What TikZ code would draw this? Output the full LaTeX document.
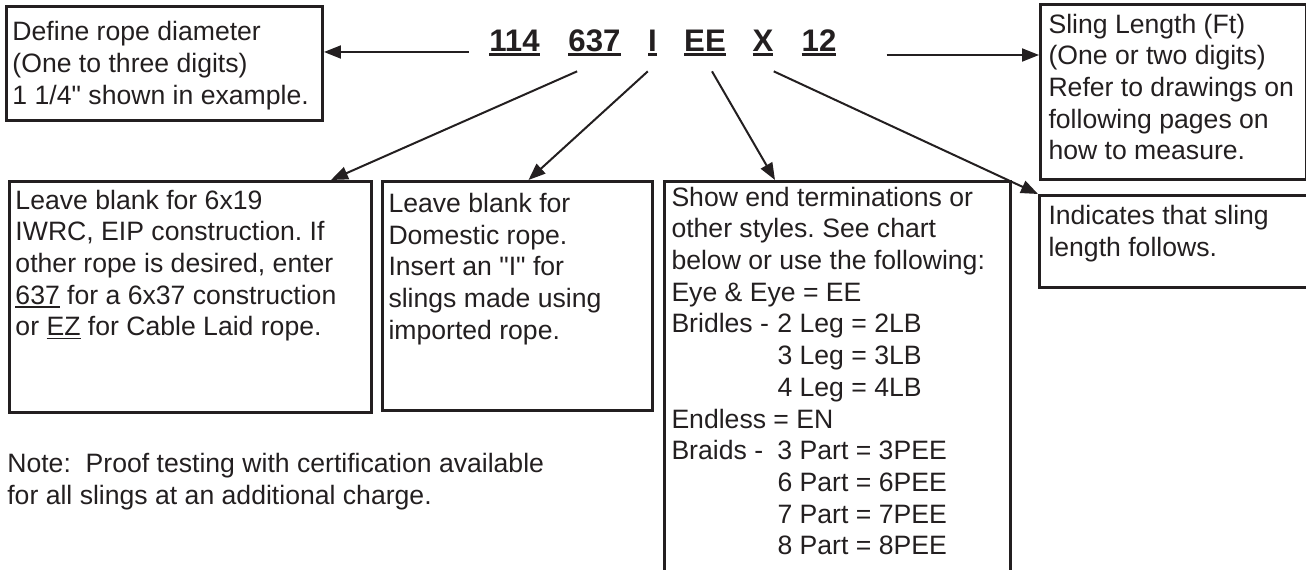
\documentclass[tikz,border=0pt]{standalone}
\usepackage{fontspec}
\setmainfont{Liberation Sans}[Ligatures=TeXOff]
\usetikzlibrary{arrows.meta}
\newlength{\pxu}
\setlength{\pxu}{0.02cm}
\definecolor{ink}{RGB}{35,31,32}
\newcommand{\bodyfont}{\fontsize{15.14pt}{18.04pt}\selectfont\frenchspacing}
\newcommand{\codefont}{\fontsize{17.75pt}{21pt}\selectfont\bfseries}
\newcommand{\boxtext}[3]{\parbox[t][#1][t]{#2}{\raggedright\strut#3}}
\newcommand{\codeul}[1]{\leavevmode\setbox0\hbox{#1}\rlap{\rule[-4\pxu]{\wd0}{2.5\pxu}}\box0\relax}
\newcommand{\textul}[1]{\leavevmode\setbox0\hbox{#1}\rlap{\rule[-3.5\pxu]{\wd0}{1.5\pxu}}\box0\relax}
\newcommand{\leadin}[1]{\makebox[106\pxu][l]{#1}}

\begin{document}
\begin{tikzpicture}[x=0.02cm, y=-0.02cm,
    box/.style={draw=ink, line width=3\pxu, anchor=north west, font=\bodyfont, text=ink, inner xsep=6\pxu},
    code/.style={font=\codefont, text=ink, anchor=base, inner xsep=0pt, inner ysep=15\pxu},
    arr/.style={draw=ink, line width=2\pxu, -{Triangle[length=0.34cm, width=0.26cm]}}]
\clip (0,0) rectangle (1306,570);

\node[box, inner ysep=12\pxu] (dia) at (5,5) {\boxtext{90\pxu}{304\pxu}{Define rope diameter\\(One to three digits)\\1 1/4" shown in example.}};

\node[box, inner ysep=6.5\pxu, inner xsep=8\pxu] (sling) at (1039,3) {\boxtext{162\pxu}{250\pxu}{Sling Length (Ft)\\(One or two digits)\\Refer to drawings on\\following pages on\\how to measure.}};

\node[box, inner ysep=5.5\pxu] (blank) at (8,180) {\boxtext{220\pxu}{350\pxu}{Leave blank for 6x19\\IWRC, EIP construction. If\\other rope is desired, enter\\\textul{637} for a 6x37 construction\\or \textul{EZ} for Cable Laid rope.}};

\node[box, inner ysep=8.8\pxu] (dom) at (381,180) {\boxtext{211.4\pxu}{258\pxu}{Leave blank for\\Domestic rope.\\Insert an "I" for\\slings made using\\imported rope.}};

\node[box, inner ysep=2.5\pxu, inner xsep=7\pxu] (ends) at (663,180) {\boxtext{414\pxu}{332\pxu}{Show end terminations or\\other styles. See chart\\below or use the following:\\Eye \& Eye = EE\\\leadin{Bridles -}2 Leg = 2LB\\\leadin{}3 Leg = 3LB\\\leadin{}4 Leg = 4LB\\Endless = EN\\\leadin{Braids -}3 Part = 3PEE\\\leadin{}6 Part = 6PEE\\\leadin{}7 Part = 7PEE\\\leadin{}8 Part = 8PEE}};

\node[box, inner ysep=7\pxu, inner xsep=9\pxu] (ind) at (1038,194) {\boxtext{78\pxu}{272\pxu}{Indicates that sling\\length follows.}};

\node[code] (c114) at (514.5,52) {\codeul{114}};
\node[code] (c637) at (594.5,52) {\codeul{637}};
\node[code] (cI) at (652.5,52) {\codeul{I}};
\node[code] (cEE) at (705,52) {\codeul{EE}};
\node[code] (cX) at (763,52) {\codeul{X}};
\node[code] (c12) at (819,52) {\codeul{12}};

\node[font=\bodyfont, text=ink, align=left, anchor=north west, inner sep=0pt] (note) at (7,453) {Note:\ \ Proof testing with certification available\\for all slings at an additional charge.};

\coordinate (l114) at ([xshift=-20\pxu]c114.base west);
\coordinate (r12) at ([xshift=50\pxu, yshift=-3\pxu]c12.base east);
\draw[arr] (l114) -- (l114 -| dia.east);
\draw[arr] (r12) -- (r12 -| sling.west);
\draw[arr] ([xshift=9\pxu]c637.south west) -- ([xshift=-42\pxu]blank.north east);
\draw[arr] (cI.south west) -- ([xshift=11\pxu]dom.north);
\draw[arr] ([xshift=7\pxu]cEE.south) -- ([xshift=112\pxu]ends.north west);
\draw[arr] (cX.south east) -- (ind.north west);
\end{tikzpicture}
\end{document}
